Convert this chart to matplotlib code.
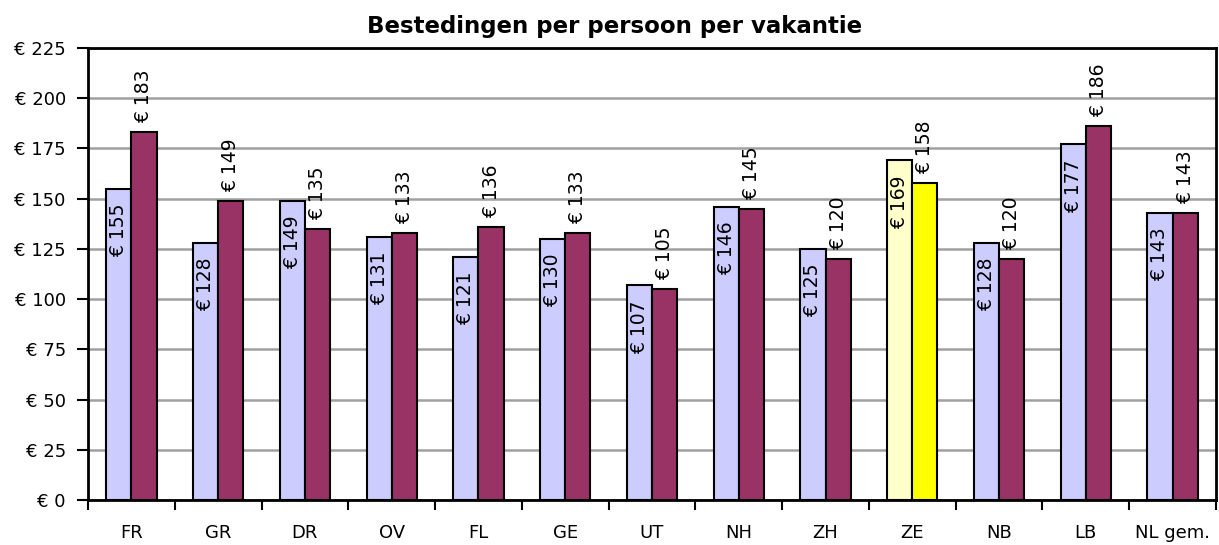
import matplotlib.pyplot as plt
import numpy as np

# data
regions = ['FR', 'GR', 'DR', 'OV', 'FL', 'GE', 'UT', 'NH', 'ZH', 'ZE', 'NB', 'LB', 'NL gem.']
serie_a = [155, 128, 149, 131, 121, 130, 107, 146, 125, 169, 128, 177, 143]
serie_b = [183, 149, 135, 133, 136, 133, 105, 145, 120, 158, 120, 186, 143]
y_ticks = [0, 25, 50, 75, 100, 125, 150, 175, 200, 225]

plt.rcParams['font.family'] = ['DejaVu Sans']

fig = plt.figure(figsize=(12.19, 5.45), dpi=100)
ax = fig.add_axes([0.0722, 0.0826, 0.9253, 0.8294])

x = np.arange(len(regions))
w = 0.29
kleur_a = ['#CCCCFF'] * len(regions)
kleur_b = ['#993366'] * len(regions)
i_ze = regions.index('ZE')
kleur_a[i_ze] = '#FFFFCC'
kleur_b[i_ze] = '#FFFF00'

ax.set_axisbelow(True)
ax.yaxis.grid(True, color='#A0A0A0', linewidth=1.8)

ax.bar(x - w / 2, serie_a, w, color=kleur_a, edgecolor='black', linewidth=1.5, zorder=3)
ax.bar(x + w / 2, serie_b, w, color=kleur_b, edgecolor='black', linewidth=1.5, zorder=3)

# labels: serie A binnen het einde, serie B boven het einde
for xi, v in zip(x - w / 2, serie_a):
    ax.text(xi, v - 7.5, f'€ {v}', rotation=90, ha='center', va='top', fontsize=13.5, zorder=4)
for xi, v in zip(x + w / 2, serie_b):
    ax.text(xi, v + 4.5, f'€ {v}', rotation=90, ha='center', va='bottom', fontsize=13.5, zorder=4)

ax.set_xlim(-0.5, len(regions) - 0.5)
ax.set_ylim(0, 225)
ax.set_yticks(y_ticks)
ax.set_yticklabels([f'€ {t}' for t in y_ticks], fontsize=13)
ax.set_xticks(x)
ax.set_xticklabels(regions, fontsize=13)
ax.tick_params(axis='x', which='major', length=0, pad=17)
ax.set_xticks(np.arange(len(regions) + 1) - 0.5, minor=True)
ax.tick_params(axis='x', which='minor', length=7, width=1.5)
ax.tick_params(axis='y', length=8, width=1.5, pad=8)

for s in ['left', 'bottom', 'top', 'right']:
    ax.spines[s].set_linewidth(2)

fig.text(0.504, 0.939, 'Bestedingen per persoon per vakantie', fontsize=16.5,
         fontweight='bold', ha='center', va='baseline')

fig.savefig('out.png', dpi=100)
